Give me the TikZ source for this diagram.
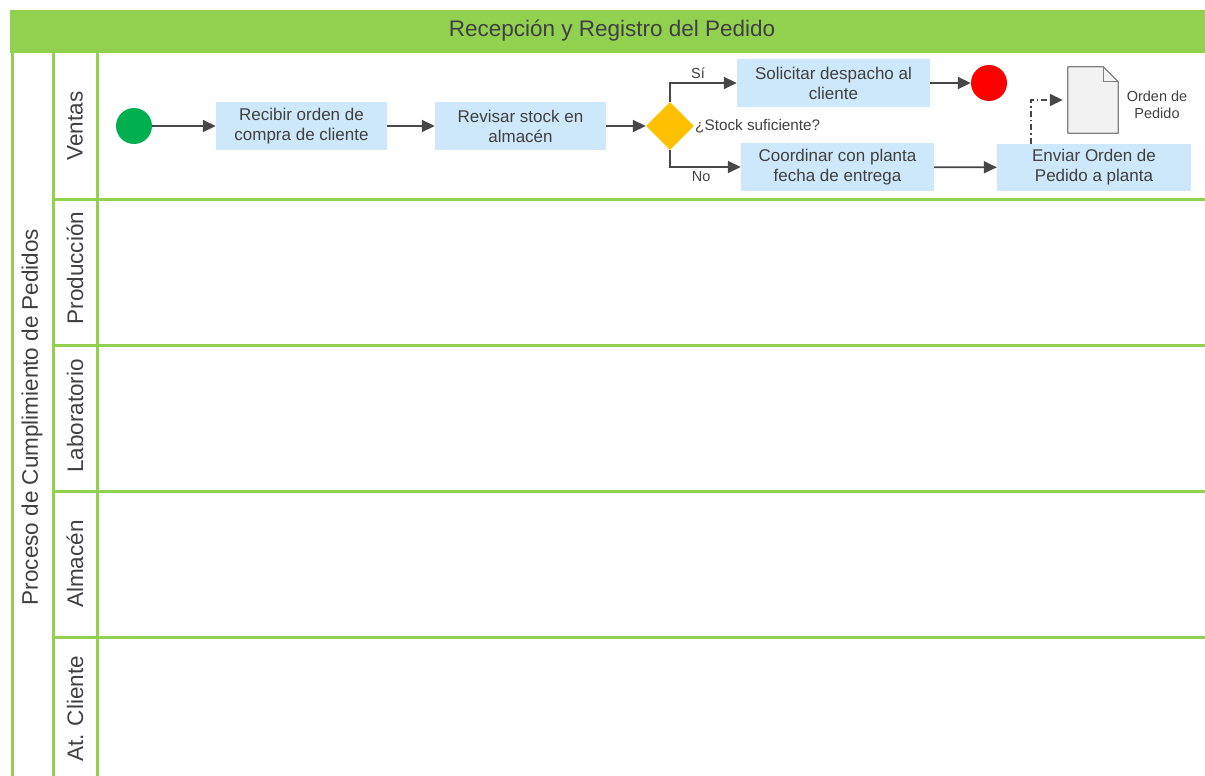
\documentclass[tikz,border=0pt]{standalone}
\usepackage{fontspec}
\setmainfont{Liberation Sans}
\usepackage{xcolor}
\usetikzlibrary{arrows.meta,shapes.geometric}

\definecolor{lanegreen}{HTML}{92D050}
\definecolor{taskblue}{HTML}{CCE8FA}
\definecolor{textgray}{HTML}{404040}
\definecolor{arrowgray}{HTML}{474747}
\definecolor{startgreen}{HTML}{00B050}
\definecolor{decgold}{HTML}{FFC000}
\definecolor{docgray}{HTML}{F2F2F2}

\begin{document}
\begin{tikzpicture}[
            x = 1pt, y = -1pt, % pixel like units, y going down
            > = {Triangle[length=13pt,width=12pt]}, % arrow head style
            flow/.style = {->, color=arrowgray, line width=1.8pt},
            task/.style = {rectangle, fill=taskblue, inner sep=0pt, align=center,
                           minimum width=171pt, minimum height=48pt,
                           text=textgray, font=\fontsize{17}{20}\selectfont},
            lane/.style = {draw=lanegreen, line width=3pt},
            lanelabel/.style = {rotate=90, text=textgray, font=\fontsize{22.5}{26}\selectfont},
            smalltext/.style = {text=textgray, font=\fontsize{14.5}{17}\selectfont}
        ]
\useasboundingbox (0,0) rectangle (1205,776);

% pool and lanes
\fill[lanegreen] (10,10) rectangle (1205,53);
\node[text=textgray, font=\fontsize{22.5}{26}\selectfont] (title) at (612,31) {Recepción y Registro del Pedido};
\draw[lane] (12,53) -- (12,776);
\draw[lane] (53.5,53) -- (53.5,776);
\draw[lane] (97.5,53) -- (97.5,776);
\draw[lane] (53.5,199) -- (1205,199);
\draw[lane] (53.5,345.5) -- (1205,345.5);
\draw[lane] (53.5,491.5) -- (1205,491.5);
\draw[lane] (53.5,637) -- (1205,637);

\node[lanelabel] (pool) at (32,417) {Proceso de Cumplimiento de Pedidos};
\node[lanelabel] (ventas) at (75,126) {Ventas};
\node[lanelabel] (produccion) at (75,268) {Producción};
\node[lanelabel] (laboratorio) at (75,416) {Laboratorio};
\node[lanelabel] (almacen) at (75,564) {Almacén};
\node[lanelabel] (atcliente) at (75,709) {At. Cliente};

% flow in Ventas
\node[shape=circle,fill=startgreen,minimum size=36pt,inner sep=0pt] (start) at (134,126) {};
\node[task] (recibir) at (301.5,126) {Recibir orden de\\compra de cliente};
\node[task] (revisar) at (520.5,126) {Revisar stock en\\almacén};
\node[shape=diamond,fill=decgold,minimum width=48pt,minimum height=48pt,inner sep=0pt] (dec) at (670,126) {};
\node[smalltext,anchor=west,inner sep=0pt,font=\fontsize{15.3}{17}\selectfont] (declabel) at (695,126) {¿Stock suficiente?};
\node[task,minimum width=193pt] (solicitar) at (833.5,83) {Solicitar despacho al\\cliente};
\node[shape=circle,fill=red,minimum size=36pt,inner sep=0pt] (fin) at (989,83) {};
\node[task,minimum width=193pt] (coordinar) at (837.5,167) {Coordinar con planta\\fecha de entrega};
\node[task,minimum width=194pt,minimum height=47pt] (enviar) at (1094,167.5) {Enviar Orden de\\Pedido a planta};

% document
\node[minimum width=50pt,minimum height=66pt,inner sep=0pt] (doc) at (1093,100) {};
\filldraw[fill=docgray,draw=gray,line width=1.2pt,line join=round]
    (doc.south west) -- (doc.north west) -- ([xshift=-15pt]doc.north east)
    -- ([yshift=-15pt]doc.north east) -- (doc.south east) -- cycle;
\draw[draw=gray,line width=1.2pt,line join=round]
    ([xshift=-15pt]doc.north east) -- ([xshift=-15pt,yshift=-15pt]doc.north east)
    -- ([yshift=-15pt]doc.north east);
\node[smalltext,align=center] (doclabel) at (1157,105) {Orden de\\Pedido};

 \path [flow] (start) edge (recibir);
 \path [flow] (recibir) edge (revisar);
 \path [flow] (revisar) edge (dec);
 \draw [flow] (dec.north) |- (solicitar.west) node[smalltext,pos=0.71,above] {Sí};
 \draw [flow] (dec.south) |- (coordinar.west) node[smalltext,pos=0.72,below] {No};
 \path [flow] (solicitar) edge (fin);
 \path [flow] (coordinar) edge (enviar);
 \draw [flow,line width=1.5pt,shorten >=5pt,dash pattern=on 6pt off 3pt on 1.5pt off 3pt]
    ([xshift=34pt]enviar.north west) |- (doc.west);
\end{tikzpicture}
\end{document}
